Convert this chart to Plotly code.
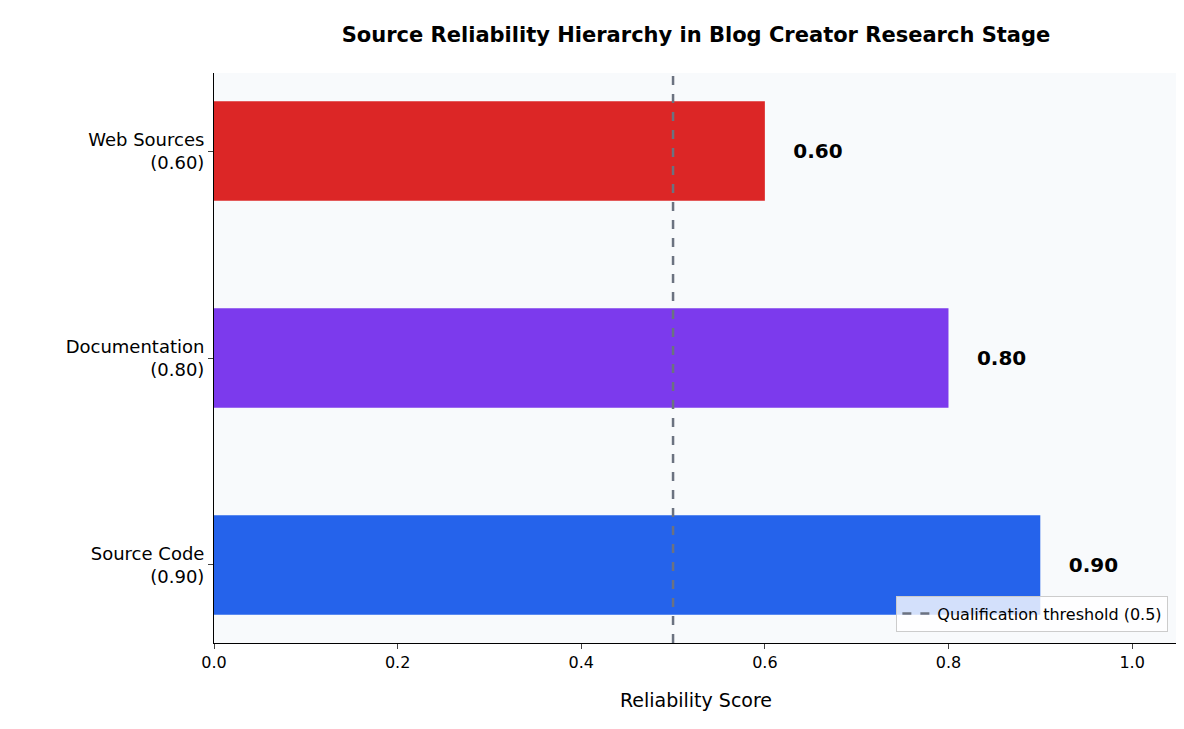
import plotly.graph_objects as go

categories = ["Source Code", "Documentation", "Web Sources"]
scores = [0.90, 0.80, 0.60]
colors = ["#2563eb", "#7c3aed", "#dc2626"]
tick_labels = ["Source Code<br>(0.90)", "Documentation<br>(0.80)", "Web Sources<br>(0.60)"]
threshold = 0.5

fig = go.Figure()
fig.add_trace(go.Bar(
    y=categories, x=scores, orientation="h", width=0.48,
    marker=dict(color=colors, line=dict(width=0)),
    text=[f"    <b>{v:.2f}</b>" for v in scores], textposition="outside",
    textfont=dict(size=20, color="black"), cliponaxis=False, showlegend=False,
))
fig.add_trace(go.Scatter(
    x=[None], y=[None], mode="lines",
    line=dict(color="#6b7280", width=2.5, dash="dash"),
    name="Qualification threshold (0.5)",
))
fig.add_shape(type="line", xref="x", yref="paper", x0=threshold, x1=threshold, y0=0, y1=1,
              line=dict(color="#6b7280", width=2.5, dash="dash"), layer="above")
fig.update_layout(
    width=1184, height=729,
    margin=dict(l=206, r=14, t=65, b=94),
    paper_bgcolor="white", plot_bgcolor="#f8fafc",
    font=dict(family="DejaVu Sans", size=17, color="black"),
    title=dict(text="<b>Source Reliability Hierarchy in Blog Creator Research Stage</b>",
               xref="paper", x=0.5, xanchor="center", y=0.963, yanchor="middle", font=dict(size=21)),
    legend=dict(x=0.99, y=0.02, xanchor="right", yanchor="bottom",
                bgcolor="rgba(255,255,255,0.8)", bordercolor="#cccccc", borderwidth=1,
                font=dict(size=16)),
)
fig.update_xaxes(range=[0, 1.05], tickvals=[0, 0.2, 0.4, 0.6, 0.8, 1.0],
                 ticktext=["0.0", "0.2", "0.4", "0.6", "0.8", "1.0"],
                 showgrid=False, zeroline=False, showline=True, linecolor="black",
                 ticks="outside", ticklen=5, tickfont=dict(size=16),
                 title=dict(text="Reliability Score", font=dict(size=19), standoff=22))
fig.update_yaxes(type="category", categoryorder="array", categoryarray=categories,
                 tickvals=categories, ticktext=tick_labels,
                 range=[-0.377, 2.377], showgrid=False, zeroline=False,
                 showline=True, linecolor="black", ticks="outside", ticklen=5,
                 tickfont=dict(size=18))
fig.write_html("out.html")
